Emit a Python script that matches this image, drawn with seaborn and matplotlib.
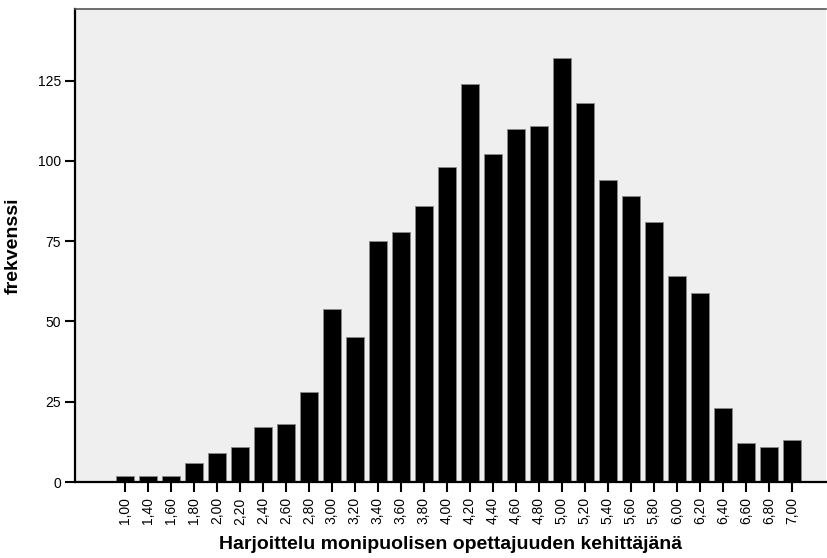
import pandas as pd
import matplotlib
matplotlib.use("Agg")
import matplotlib.pyplot as plt
import seaborn as sns

categories = ["1,00", "1,40", "1,60", "1,80", "2,00", "2,20", "2,40", "2,60", "2,80", "3,00",
              "3,20", "3,40", "3,60", "3,80", "4,00", "4,20", "4,40", "4,60", "4,80", "5,00",
              "5,20", "5,40", "5,60", "5,80", "6,00", "6,20", "6,40", "6,60", "6,80", "7,00"]
counts = [2, 2, 2, 6, 9, 11, 17, 18, 28, 54,
          45, 75, 78, 86, 98, 124, 102, 110, 111, 132,
          118, 94, 89, 81, 64, 59, 23, 12, 11, 13]
y_ticks = [0, 25, 50, 75, 100, 125]

x_label = "Harjoittelu monipuolisen opettajuuden kehittäjänä"
y_label = "frekvenssi"

sns.set_style("ticks")
plt.rcParams["font.family"] = ["Liberation Sans", "DejaVu Sans"]
plt.rcParams["text.color"] = "black"
plt.rcParams["axes.labelcolor"] = "black"
plt.rcParams["xtick.color"] = "black"
plt.rcParams["ytick.color"] = "black"

df = pd.DataFrame({"arvo": categories, "frekvenssi": counts})

fig = plt.figure(figsize=(8.28, 5.58), dpi=100)
ax = fig.add_axes([0.0906, 0.1362, 0.9074, 0.8477])
ax.set_facecolor("#efefef")

sns.barplot(data=df, x="arvo", y="frekvenssi", order=categories, color="black",
            width=0.78, edgecolor="#8a8a8a", linewidth=0.6, saturation=1, ax=ax)

ax.set_xlim(-2.17, 30.5)
ax.set_ylim(0, 147.3)
ax.set_yticks(y_ticks)
ax.set_yticklabels([str(t) for t in y_ticks], fontsize=10)
ax.tick_params(axis="x", labelrotation=90, labelsize=10, length=7, width=1.5, pad=4,
               colors="black")
ax.tick_params(axis="y", length=7, width=1.5, pad=3, colors="black")

for side in ["left", "bottom"]:
    ax.spines[side].set_color("black")
    ax.spines[side].set_linewidth(1.6)
ax.spines["top"].set_color("#555555")
ax.spines["top"].set_linewidth(1.2)
ax.spines["right"].set_visible(False)

ax.set_xlabel(x_label, fontsize=14, fontweight="bold", labelpad=8, color="black")
ax.set_ylabel(y_label, fontsize=14, fontweight="bold", labelpad=12, color="black")

plt.savefig("out.png", dpi=100)
